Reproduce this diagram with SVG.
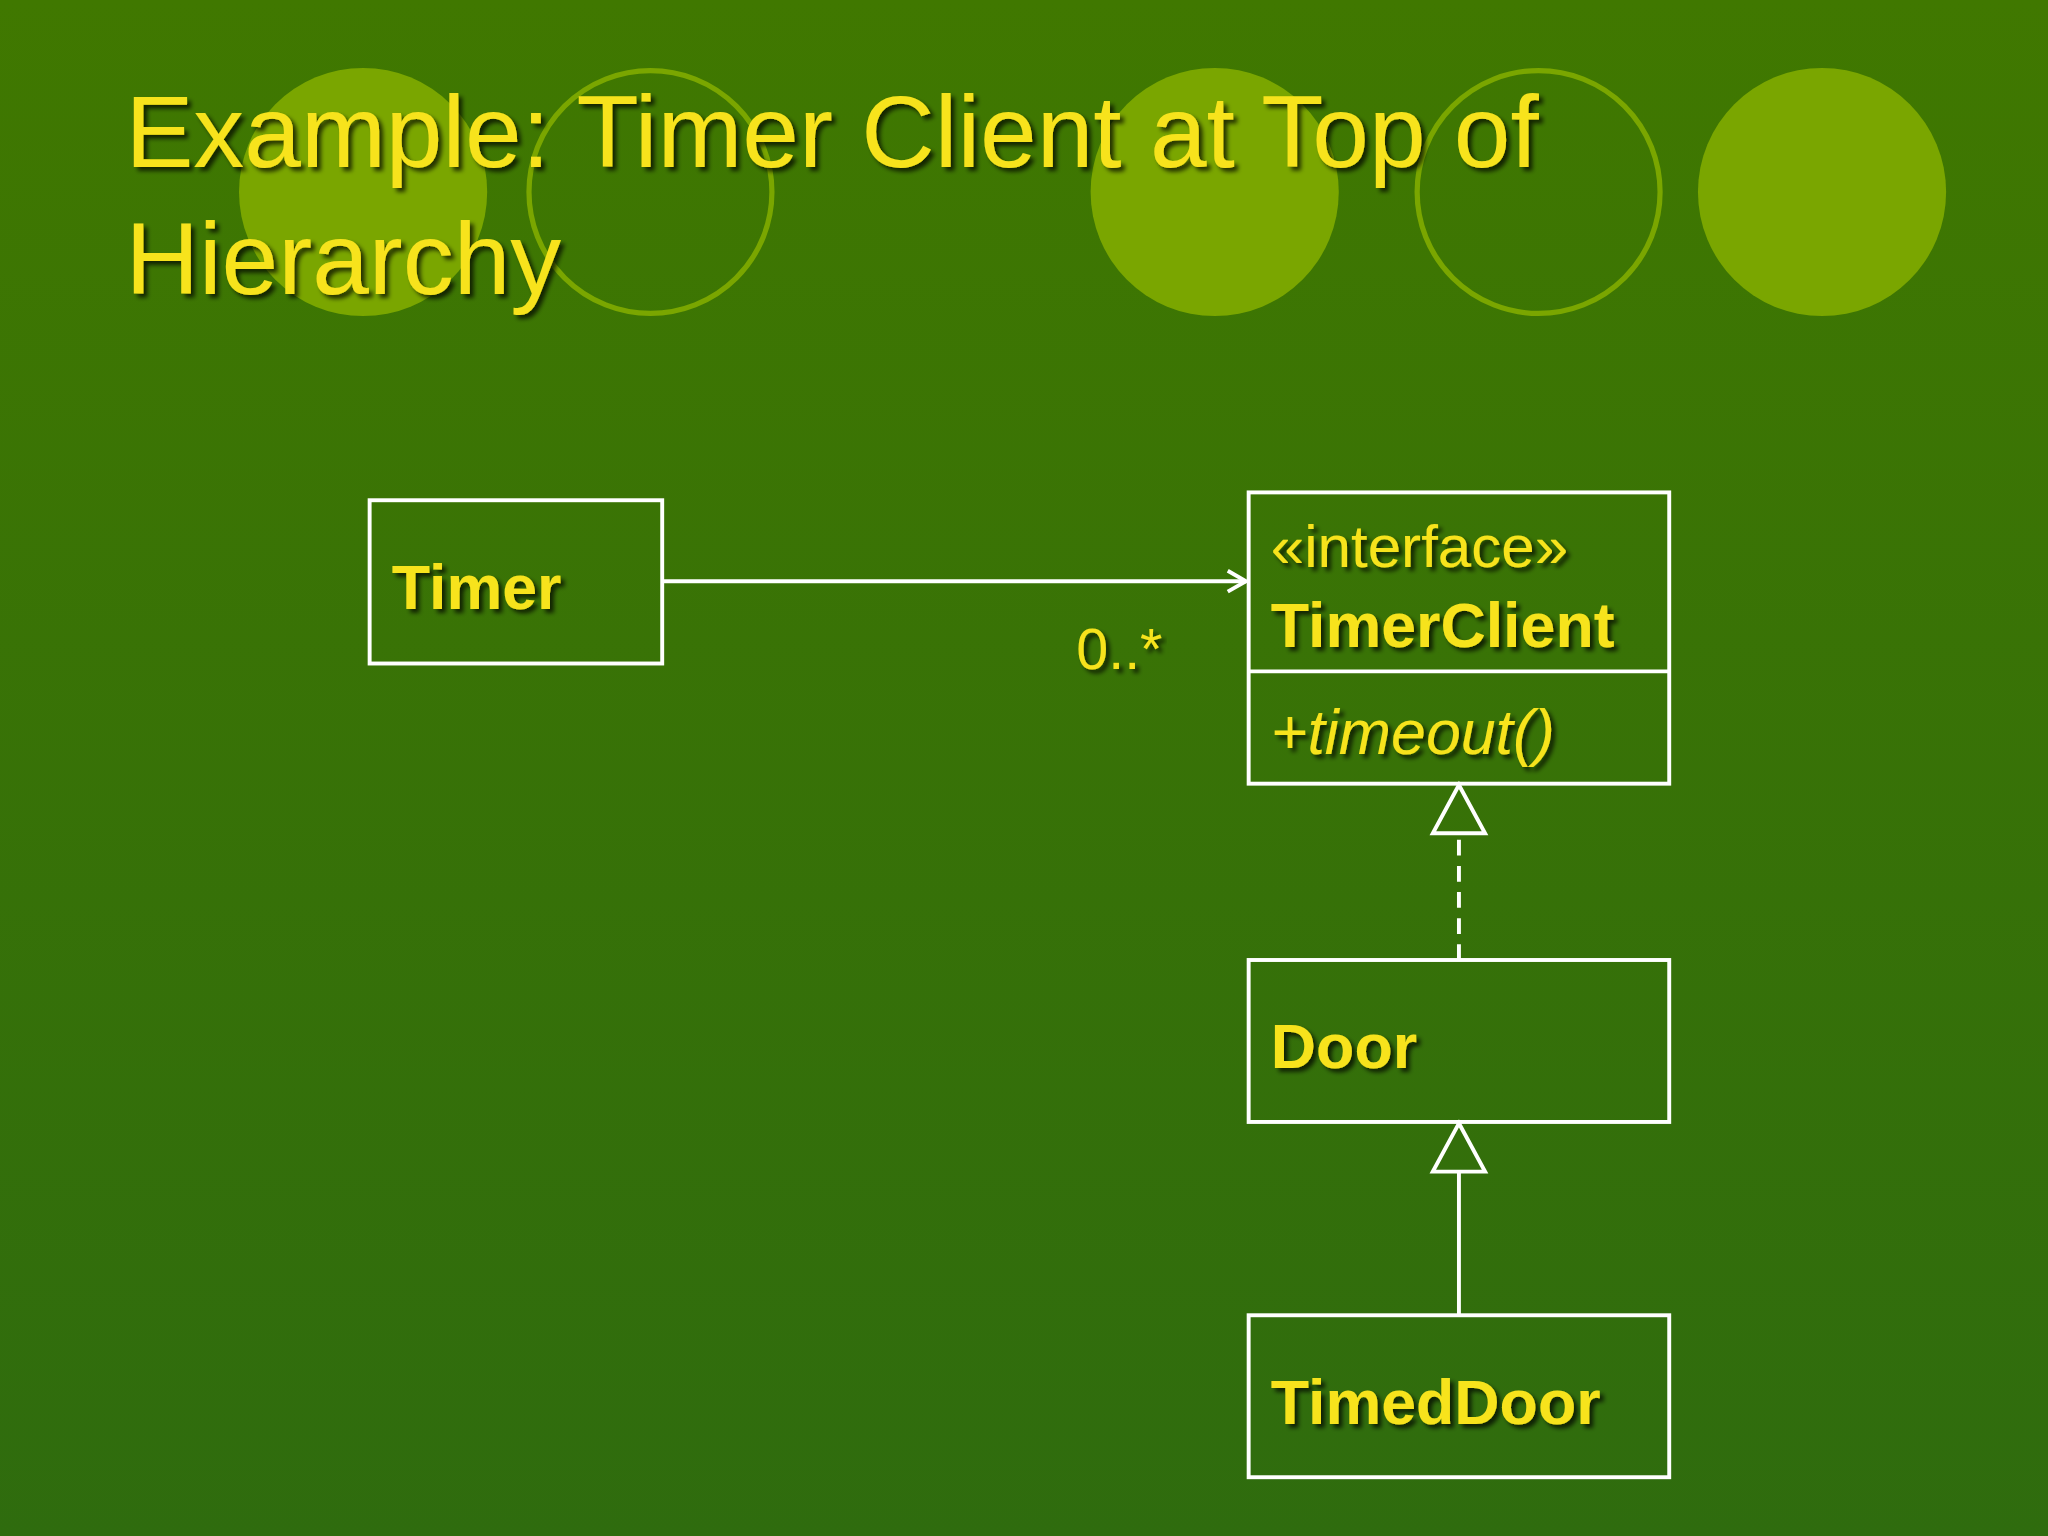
<svg xmlns="http://www.w3.org/2000/svg" width="2048" height="1536" viewBox="0 0 2048 1536">
<defs>
<linearGradient id="bg" x1="0" y1="0" x2="0" y2="1"><stop offset="0" stop-color="#407800"/><stop offset="1" stop-color="#2f6c0e"/></linearGradient>
<filter id="sh" x="-5%" y="-5%" width="110%" height="120%"><feDropShadow dx="3" dy="3" stdDeviation="1.5" flood-color="#000" flood-opacity="0.7"/></filter>
<marker id="open" markerWidth="20" markerHeight="20" refX="18" refY="10" orient="auto" markerUnits="userSpaceOnUse"><path d="M4,2 L18,10 L4,18" fill="none" stroke="#fff" stroke-width="3"/></marker>
<style>
.box{fill:none;stroke:#fff;stroke-width:3}
.t{font-family:"Liberation Sans",Arial,sans-serif;fill:#f7e31c;filter:url(#sh)}
.b{font-weight:bold}
.ln{stroke:#fff;stroke-width:3;fill:none}
</style>
</defs>
<rect width="2048" height="1536" fill="url(#bg)"/>
<g transform="scale(1.30612)">
<g id="deco">
<circle cx="278" cy="147" r="95" fill="#7aa600"/>
<circle cx="498" cy="147" r="93" fill="none" stroke="#7aa600" stroke-width="4"/>
<circle cx="930" cy="147" r="95" fill="#7aa600"/>
<circle cx="1178" cy="147" r="93" fill="none" stroke="#7aa600" stroke-width="4"/>
<circle cx="1395" cy="147" r="95" fill="#7aa600"/>
</g>
<g id="title" class="t" font-size="78">
<text x="96" y="128">Example: Timer Client at Top of</text>
<text x="96" y="225">Hierarchy</text>
</g>
<g id="connectors">
<line class="ln" x1="507" y1="445" x2="954" y2="445" marker-end="url(#open)"/>
<line class="ln" x1="1117" y1="735" x2="1117" y2="638" stroke-dasharray="12,8"/>
<path class="ln" d="M1117,601 L1137,638 L1097,638 Z"/>
<line class="ln" x1="1117" y1="1007" x2="1117" y2="897"/>
<path class="ln" d="M1117,860 L1137,897 L1097,897 Z"/>
<text class="t" x="824" y="512" font-size="44">0..*</text>
</g>
<g id="Timer"><rect class="box" x="283" y="383" width="224" height="125"/><text class="t b" x="300" y="466" font-size="48">Timer</text></g>
<g id="TimerClient"><rect class="box" x="956" y="377" width="322" height="223"/><line class="ln" x1="956" y1="514" x2="1278" y2="514"/>
<text class="t" x="973" y="434" font-size="46">«interface»</text>
<text class="t b" x="973" y="495" font-size="48">TimerClient</text>
<text class="t" x="973" y="577" font-size="48" font-style="italic">+timeout()</text></g>
<g id="Door"><rect class="box" x="956" y="735" width="322" height="124"/><text class="t b" x="973" y="818" font-size="48">Door</text></g>
<g id="TimedDoor"><rect class="box" x="956" y="1007" width="322" height="124"/><text class="t b" x="973" y="1090" font-size="48">TimedDoor</text></g>
</g>
</svg>
